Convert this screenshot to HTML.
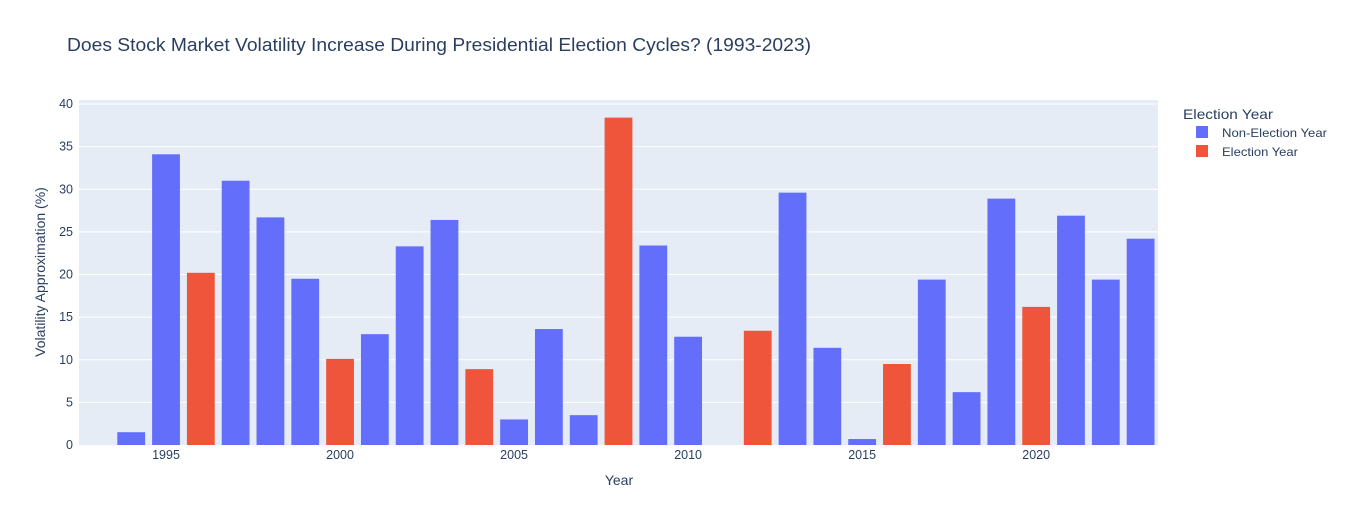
<!DOCTYPE html>
<html><head><meta charset="utf-8"><style>
body{margin:0;background:#fff;font-family:"Liberation Sans",Arial,sans-serif;}
svg text{font-family:"Liberation Sans",Arial,sans-serif;fill:#2a3f5f;}
</style></head><body>
<svg id="chart" width="1346" height="525">
<rect x="79" y="100" width="1079" height="345" fill="#e5ecf6"/>
<g id="grid"></g><g id="bars"></g><g id="axes"></g>
<text x="67" y="51" font-size="18" textLength="744" lengthAdjust="spacingAndGlyphs">Does Stock Market Volatility Increase During Presidential Election Cycles? (1993-2023)</text>
<text x="619" y="485" font-size="14" text-anchor="middle">Year</text>
<text transform="translate(45,272) rotate(-90)" font-size="14" text-anchor="middle">Volatility Approximation (%)</text>
<text x="1183" y="119" font-size="14" textLength="90" lengthAdjust="spacingAndGlyphs">Election Year</text>
<g><rect x="1196" y="126" width="12" height="12" fill="#636efa"/><text x="1222" y="137" font-size="12" textLength="105" lengthAdjust="spacingAndGlyphs">Non-Election Year</text></g>
<g><rect x="1196" y="145" width="12" height="12" fill="#ef553b"/><text x="1222" y="156" font-size="12" textLength="76" lengthAdjust="spacingAndGlyphs">Election Year</text></g>
</svg>
<script>
const years=[1993,1994,1995,1996,1997,1998,1999,2000,2001,2002,2003,2004,2005,2006,2007,2008,2009,2010,2011,2012,2013,2014,2015,2016,2017,2018,2019,2020,2021,2022,2023];
const values=[0,1.5,34.1,20.2,31.0,26.7,19.5,10.1,13.0,23.3,26.4,8.9,3.0,13.6,3.5,38.4,23.4,12.7,0,13.4,29.6,11.4,0.7,9.5,19.4,6.2,28.9,16.2,26.9,19.4,24.2];
const electionYears=[1996,2000,2004,2008,2012,2016,2020];
const yTicks=[0,5,10,15,20,25,30,35,40];
const xTicks=[1995,2000,2005,2010,2015,2020];
const NS='http://www.w3.org/2000/svg';
const x=v=>79+(v-1992.5)*(1079/31);
const y=v=>445-v*8.525;
const g=document.getElementById('grid'),b=document.getElementById('bars'),a=document.getElementById('axes');
function mk(t,at,p){const e=document.createElementNS(NS,t);for(const k in at)e.setAttribute(k,at[k]);p.appendChild(e);return e;}
yTicks.forEach(t=>{
 if(t>0){const l=mk('line',{x1:79,x2:1158,y1:y(t),y2:y(t),stroke:'#fff','stroke-width':1},g);
 
 }
 const tx=mk('text',{x:73,y:y(t)+4,'font-size':12.5,'text-anchor':'end'},a);tx.textContent=t;
 
 
});
xTicks.forEach(t=>{
 const tx=mk('text',{x:x(t),y:459,'font-size':12.5,'text-anchor':'middle'},a);tx.textContent=t;
 
 
});
years.forEach((yr,i)=>{
 const v=values[i];const el=electionYears.includes(yr);
 const r=mk('rect',{x:x(yr)-13.9,width:27.8,y:y(v),height:445-y(v),fill:el?'#ef553b':'#636efa'},b);
 
 
});
</script>
</body></html>
